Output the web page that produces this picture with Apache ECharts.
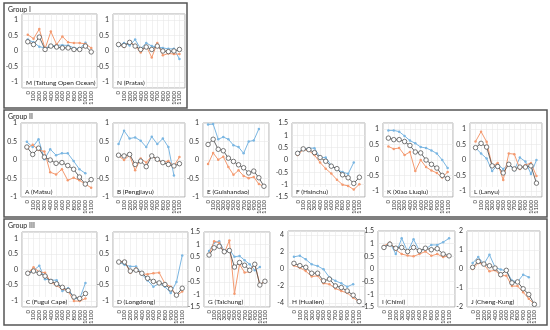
<!DOCTYPE html>
<html><head><meta charset="utf-8">
<script src="https://cdn.jsdelivr.net/npm/echarts@6/dist/echarts.min.js"></script>
<style>html,body{margin:0;padding:0;background:#fff}#c{width:550px;height:330px}</style>
</head><body><div id="c"></div>
<script>
const depths = [0,100,200,300,400,500,600,700,800,900,1000,1100];
const xTickLabels = ['0','100','200','300','400','500','600','700','800','900','1000','1100'];

// Group I
const M_orange = [0.53,0.40,0.71,0.07,0.63,0.21,0.47,0.28,0.26,0.26,0.23,0.10];
const M_blue   = [0.37,0.28,0.14,0.10,0.16,0.19,0.19,0.18,0.10,0.07,0.27];
const M_black  = [0.30,0.21,0.45,0.05,0.16,0.13,0.10,0.10,0.05,0.05,0.16,-0.03];
const N_orange = [0.21,0.13,0.32,0.16,-0.05,0.16,-0.21,0.26,-0.14,-0.08,-0.10,-0.10];
const N_blue   = [0.16,0.26,0.18,0.37,0.07,0.26,0.16,0.13,0.10,0.07,0.07,-0.26];
const N_black  = [0.21,0.18,0.28,0.16,0.05,0.13,0.05,0.16,0.00,-0.02,0.00,0.05];
// Group II
const A_orange = [0.32,0.41,0.27,0.23,-0.33,-0.39,-0.25,-0.55,-0.48,-0.55,-0.65,-0.75];
const A_blue   = [0.49,0.35,0.56,0.02,0.29,0.13,0.18,0.18,-0.03,-0.25,-0.36];
const A_black  = [0.35,0.15,0.32,0.08,0.00,-0.09,-0.07,-0.15,-0.25,-0.46,-0.65,-0.53];
const B_orange = [0.11,0.00,0.13,-0.28,0.04,-0.07,0.11,0.00,-0.07,-0.03,-0.16,0.08];
const B_blue   = [0.43,0.79,0.58,0.61,0.52,0.35,0.63,0.43,0.58,0.35,-0.42];
const B_black  = [0.13,0.11,0.15,-0.12,-0.03,-0.18,0.11,0.02,-0.07,-0.12,-0.16,-0.10];
const E_orange = [-0.11,0.19,0.01,0.09,-0.19,-0.40,-0.28,-0.43,-0.49,-0.46,-0.65,-0.71];
const E_blue   = [0.96,0.97,0.56,0.62,0.56,0.40,0.35,0.18,0.50,0.53,0.84];
const E_black  = [0.42,0.56,0.29,0.25,0.05,-0.04,-0.13,-0.21,-0.35,-0.30,-0.48,-0.71];
const F_orange = [0.20,0.42,0.38,0.20,-0.10,-0.35,-0.55,-0.80,-1.00,-1.05,-1.20,-0.98];
const F_blue   = [0.30,0.42,0.48,0.48,0.10,0.10,-0.22,-0.39,-0.49,-0.56,-0.10];
const F_black  = [0.27,0.45,0.42,0.30,0.10,-0.05,-0.25,-0.35,-0.60,-0.72,-0.95,-0.70];
const K_orange = [0.44,0.36,0.39,0.16,0.26,-0.36,0.00,-0.23,-0.34,-0.42,-0.57,-0.39];
const K_blue   = [0.96,0.96,0.92,0.78,0.63,0.54,0.42,0.39,0.31,0.21,0.00,-0.26];
const K_black  = [0.71,0.66,0.66,0.60,0.47,0.26,0.23,0.00,-0.14,-0.26,-0.50,-0.60];
const L_orange = [0.60,0.92,0.59,-0.19,-0.10,-0.65,0.21,0.19,-0.29,-0.16,-0.10,-0.52];
const L_blue   = [0.40,0.21,0.05,-0.36,-0.16,-0.29,-0.13,-0.33,0.08,-0.05,-0.45,0.00];
const L_black  = [0.40,0.54,0.42,-0.19,-0.21,-0.42,-0.14,-0.29,-0.23,-0.23,-0.19,-0.75];
// Group III
const C_orange = [-0.12,0.07,-0.08,-0.10,-0.41,-0.52,-0.62,-0.69,-1.01,-1.01,-0.93];
const C_blue   = [-0.12,-0.03,0.12,-0.31,-0.34,-0.34,-0.69,-0.60,-0.93,-0.93,-0.43];
const C_black  = [-0.12,-0.05,-0.12,-0.21,-0.38,-0.46,-0.57,-0.67,-0.88,-0.93,-0.77];
const D_orange = [0.24,0.27,-0.10,0.03,-0.15,-0.15,-0.12,-0.10,-0.45,-0.55,-0.85,-0.70];
const D_blue   = [0.24,0.15,0.10,0.10,-0.15,-0.35,-0.55,-0.45,-0.55,-0.75,-0.40,0.45];
const D_black  = [0.24,0.24,-0.05,-0.02,-0.12,-0.28,-0.38,-0.43,-0.48,-0.62,-0.82,-0.60];
const G_orange = [0.60,1.13,1.07,0.67,1.16,-0.97,0.21,-0.12,-0.09,0.24,-0.60,-0.47];
const G_blue   = [0.74,1.07,1.13,0.74,0.80,0.51,0.54,0.37,0.21,-0.03,0.10];
const G_black  = [0.58,0.87,0.93,0.71,0.76,0.10,0.28,0.17,-0.03,0.21,-0.62,-0.47];
const H_orange = [0.40,0.15,-0.25,-0.90,-0.80,-1.70,-1.80,-2.30,-2.60,-2.85,-3.40,-3.90];
const H_blue   = [1.45,1.57,1.14,0.55,0.35,-0.04,-1.00,-1.40,-1.70,-2.10,-1.80];
const H_black  = [0.67,0.40,0.20,-0.50,-0.50,-1.40,-1.20,-2.00,-2.20,-2.60,-3.10,-3.85];
const I_orange = [0.91,1.04,0.76,0.59,0.53,0.50,0.59,0.69,0.52,0.59,0.47,0.52];
const I_blue   = [0.85,1.04,0.59,1.21,0.69,1.17,0.72,0.78,0.95,0.95,1.06,1.21];
const I_black  = [0.85,0.98,0.82,0.85,0.69,0.85,0.72,0.82,0.76,0.80,0.59,0.52];
const J_orange = [0.00,0.31,0.23,-0.12,-0.07,-0.35,-0.35,-0.90,-0.90,-1.22,-1.57,-1.86];
const J_blue   = [0.31,0.63,0.26,0.75,0.09,-0.03,-0.09,-0.61,-0.68,-0.30,-0.43];
const J_black  = [0.09,0.40,0.26,0.17,0.05,-0.30,-0.07,-0.73,-0.68,-1.04,-1.34,-1.86];

const panels = [
  {name:'M (Taitung Open Ocean)', g:[22,14,75,74], y:[-1.2,1.2], edge:false, o:M_orange, b:M_blue, k:M_black},
  {name:'N (Pratas)', g:[113,14,72,74], y:[-1.2,1.2], edge:false, o:N_orange, b:N_blue, k:N_black},
  {name:'A (Matsu)', g:[21,123,76,74], y:[-1,1], edge:true, o:A_orange, b:A_blue, k:A_black},
  {name:'B (Pengjiayu)', g:[113,123,72,74], y:[-1,1], edge:true, o:B_orange, b:B_blue, k:B_black},
  {name:'E (Guishandao)', g:[203,123,66,74], y:[-1,1], edge:true, o:E_orange, b:E_blue, k:E_black},
  {name:'F (Hsinchu)', g:[292,123,73,74], y:[-1.5,1.5], edge:true, o:F_orange, b:F_blue, k:F_black},
  {name:'K (Xiao Liuqiu)', g:[383,123,70,74], y:[-1.2,1.2], edge:false, o:K_orange, b:K_blue, k:K_black},
  {name:'L (Lanyu)', g:[470,123,72,74], y:[-1.2,1.2], edge:false, o:L_orange, b:L_blue, k:L_black},
  {name:'C (Fugui Cape)', g:[22,232,75,75], y:[-1.2,1.2], edge:false, o:C_orange, b:C_blue, k:C_black},
  {name:'D (Longdong)', g:[113,232,75,75], y:[-1.2,1.2], edge:false, o:D_orange, b:D_blue, k:D_black},
  {name:'G (Taichung)', g:[204,232,66,75], y:[-1.5,1.5], edge:true, o:G_orange, b:G_blue, k:G_black},
  {name:'H (Hualien)', g:[288,231,77,76], y:[-4.5,4.5], edge:false, o:H_orange, b:H_blue, k:H_black},
  {name:'I (Chimi)', g:[378,231,77,76], y:[-1.5,1.5], edge:true, o:I_orange, b:I_blue, k:I_black},
  {name:'J (Cheng-Kung)', g:[467,231,73,76], y:[-2,2], edge:true, o:J_orange, b:J_blue, k:J_black}
];

const FONT = 'Lato, "DejaVu Sans", sans-serif';
const pair = arr => arr.map((v,i)=>[depths[i], v]);
const grid=[], xAxis=[], yAxis=[], series=[], graphic=[];

panels.forEach((p,i)=>{
  grid.push({left:p.g[0], top:p.g[1], width:p.g[2], height:p.g[3], show:true, borderColor:'#9a9a9a', borderWidth:0.8, backgroundColor:'#fff'});
  xAxis.push({gridIndex:i, type:'value', min:-100, max:1200, interval:100,
    axisLine:{show:false}, axisTick:{show:false},
    splitLine:{show:true, lineStyle:{color:'#e8e8e8', width:0.6}},
    axisLabel:{rotate:90, fontSize:6, margin:3, color:'#333', fontFamily:FONT,
      formatter:v=>{const k=depths.indexOf(v); return k<0?'':xTickLabels[k];}}});
  yAxis.push({gridIndex:i, type:'value', min:p.y[0], max:p.y[1], splitNumber:5,
    axisLine:{show:false}, axisTick:{show:false},
    splitLine:{show:true, lineStyle:{color:'#e8e8e8', width:0.6}},
    axisLabel:{fontSize:7, margin:4, color:'#333', fontFamily:FONT, showMinLabel:p.edge, showMaxLabel:p.edge}});
  series.push({type:'line', xAxisIndex:i, yAxisIndex:i, data:pair(p.b), symbol:'circle', symbolSize:2.5,
    lineStyle:{color:'#7ab6e2', width:1}, itemStyle:{color:'#7ab6e2'}, animation:false, z:2});
  series.push({type:'line', xAxisIndex:i, yAxisIndex:i, data:pair(p.o), symbol:'circle', symbolSize:2.5,
    lineStyle:{color:'#f49a70', width:1}, itemStyle:{color:'#f49a70'}, animation:false, z:3});
  series.push({type:'line', xAxisIndex:i, yAxisIndex:i, data:pair(p.k), symbol:'circle', symbolSize:4.5,
    lineStyle:{color:'#555', width:0.9}, itemStyle:{color:'#fff', borderColor:'#555', borderWidth:0.8}, animation:false, z:4});
  graphic.push({type:'text', left:p.g[0]+3, top:p.g[1]+p.g[3]-10, z:10,
    style:{text:p.name, fontSize:6.5, fill:'#222', fontFamily:FONT, backgroundColor:'#fff', padding:[1,1]}});
});

const boxes = [
  {label:'Group I', r:[4,3,183,105]},
  {label:'Group II', r:[4,110,543,107]},
  {label:'Group III', r:[4,219,543,106]}
];
boxes.forEach(b=>{
  graphic.push({type:'rect', shape:{x:b.r[0], y:b.r[1], width:b.r[2], height:b.r[3]}, z:0,
    style:{fill:'none', stroke:'#555', lineWidth:1.5}});
  graphic.push({type:'text', left:b.r[0]+4, top:b.r[1]+3, z:10,
    style:{text:b.label, fontSize:7, fill:'#222', fontFamily:FONT}});
});

const chart = echarts.init(document.getElementById('c'), null, {renderer:'canvas'});
chart.setOption({animation:false, backgroundColor:'#fff', grid, xAxis, yAxis, series, graphic});
</script></body></html>
